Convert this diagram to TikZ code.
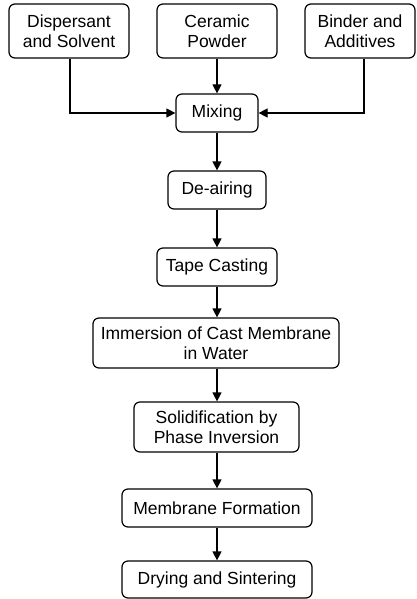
\documentclass[tikz,border=0pt]{standalone}
\usepackage{fontspec}
\setmainfont{Liberation Sans}
\usetikzlibrary{arrows.meta}
\begin{document}
\begin{tikzpicture}[x=1pt,y=-1pt,
  box/.style={draw, line width=1.2pt, rounded corners=6pt, inner sep=0pt, align=center,
    font=\fontsize{17.5}{20}\selectfont},
  arr/.style={line width=1.2pt, -{Triangle[length=9pt,width=9pt]}}]
\useasboundingbox (0,0) rectangle (416,599);
\node[box, minimum width=120pt, minimum height=54pt] (disp) at (69,31) {Dispersant\\and Solvent};
\node[box, minimum width=120pt, minimum height=54pt] (cer) at (217,31) {Ceramic\\Powder};
\node[box, minimum width=110pt, minimum height=54pt] (bind) at (360,31) {Binder and\\Additives};
\node[box, minimum width=82pt, minimum height=38pt] (mix) at (217,113) {Mixing};
\node[box, minimum width=98pt, minimum height=38pt] (deair) at (217,190) {De-airing};
\node[box, minimum width=120pt, minimum height=38pt] (tape) at (217,267) {Tape Casting};
\node[box, minimum width=246pt, minimum height=50pt] (imm) at (216,343) {Immersion of Cast Membrane\\in Water};
\node[box, minimum width=165pt, minimum height=50pt] (sol) at (216.5,427) {Solidification by\\Phase Inversion};
\node[box, minimum width=190pt, minimum height=38pt] (mem) at (217,508) {Membrane Formation};
\node[box, minimum width=190pt, minimum height=37pt] (dry) at (217,579.5) {Drying and Sintering};
\draw[arr] ([xshift=1pt]disp.south) |- (mix.west);
\draw[arr] (cer.south) -- (mix.north);
\draw[arr] ([xshift=4pt]bind.south) |- (mix.east);
\draw[arr] (mix) -- (deair);
\draw[arr] (deair) -- (tape);
\draw[arr] (tape) -- (tape |- imm.north);
\draw[arr] (imm.south -| tape) -- (tape |- sol.north);
\draw[arr] (sol.south -| tape) -- (mem.north);
\draw[arr] (mem) -- (dry);
\end{tikzpicture}
\end{document}
